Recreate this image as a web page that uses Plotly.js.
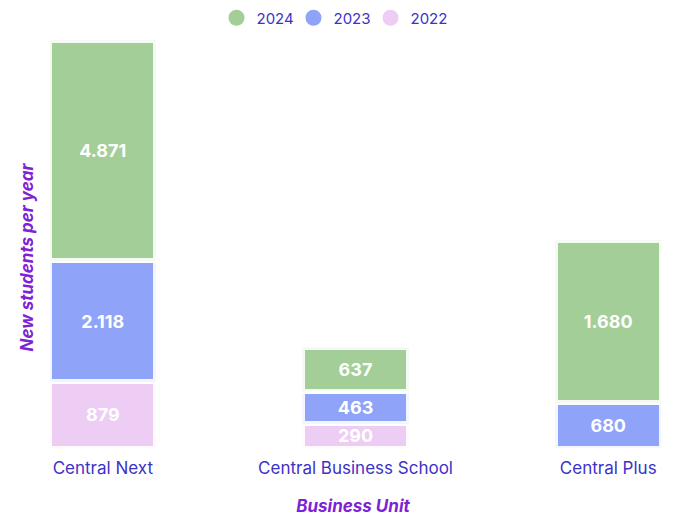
<!DOCTYPE html>
<html>
<head>
<meta charset="utf-8">
<script src="https://cdn.plot.ly/plotly-3.0.1.min.js"></script>
<style>
  html, body { margin: 0; padding: 0; background: #ffffff; }
  #chart { width: 676px; height: 524px; }
</style>
</head>
<body>
<div id="chart"></div>
<script>
// Stacked new-student bars per business unit. Heights,
// labels read off the printed text (the two do not agree in the source).
const units = ["Central Next", "Central Business School", "Central Plus"];
const years = ["2022", "2023", "2024"];

const heights2022 = [1325, 490, 0];
const heights2023 = [2420, 650, 905];
const heights2024 = [4410, 875, 3255];

const labels2022 = ["879", "290", ""];
const labels2023 = ["2.118", "463", "680"];
const labels2024 = ["4.871", "637", "1.680"];

const COLORS = { "2022": "#edcdf4", "2023": "#8fa3f8", "2024": "#a3ce98" };
const TICK = "#3b32c8";
const TITLE = "#7d22d6";
const FONT = "Inter, 'Open Sans', sans-serif";

const series = { "2022": [heights2022, labels2022], "2023": [heights2023, labels2023], "2024": [heights2024, labels2024] };

const bars = years.map((yr) => ({
  type: "bar",
  name: yr,
  x: units,
  y: series[yr][0],
  text: series[yr][1],
  textposition: "inside",
  insidetextanchor: "middle",
  constraintext: "none",
  textfont: { color: "#ffffff", size: 18, family: FONT, weight: 700 },
  marker: { color: COLORS[yr], line: { color: "rgba(255,255,255,0.9)", width: 5 } },
  showlegend: false,
  hoverinfo: "skip",
}));

// circle swatches for the legend (bars would give squares)
const swatches = [...years].reverse().map((yr) => ({
  type: "scatter",
  mode: "markers",
  name: yr,
  x: [null],
  y: [null],
  marker: { color: COLORS[yr], size: 16, symbol: "circle" },
  hoverinfo: "skip",
}));

const layout = {
  width: 676,
  height: 524,
  paper_bgcolor: "#ffffff",
  plot_bgcolor: "#ffffff",
  font: { family: FONT, color: TICK, size: 15 },
  margin: { t: 38, r: 10, b: 76, l: 40 },
  barmode: "stack",
  bargap: 0.58,
  showlegend: true,
  legend: {
    orientation: "h",
    xref: "paper", x: 0.5 - 21 / 626, xanchor: "center",
    yref: "container", y: 1 - 18 / 524, yanchor: "middle",
    entrywidth: 32,
    font: { size: 15, color: TICK, family: FONT },
    traceorder: "normal",
  },
  uniformtext: { minsize: 18, mode: "show" },
  xaxis: {
    type: "category",
    range: [-0.2485, 2.2287],
    showgrid: false, zeroline: false, showline: false, ticks: "",
    ticklabelstandoff: 8,
    tickfont: { size: 17, color: TICK, family: FONT },
    title: { text: "Business Unit", standoff: 23, font: { size: 17, color: TITLE, family: FONT, weight: 700, style: "italic" } },
    fixedrange: true,
  },
  yaxis: {
    range: [0, 8200],
    showgrid: false, zeroline: false, showline: false, showticklabels: false, ticks: "",
    fixedrange: true,
  },
  annotations: [
    {
      text: "New students per year",
      xref: "paper", yref: "paper", x: 0, y: (448 - 257.5) / 410,
      xanchor: "center", yanchor: "middle", xshift: -14,
      textangle: -90, showarrow: false,
      font: { size: 17, color: TITLE, family: FONT, weight: 700, style: "italic" },
    },
  ],
};

Plotly.newPlot("chart", [...bars, ...swatches], layout, { displayModeBar: false, staticPlot: true });
</script>
</body>
</html>
